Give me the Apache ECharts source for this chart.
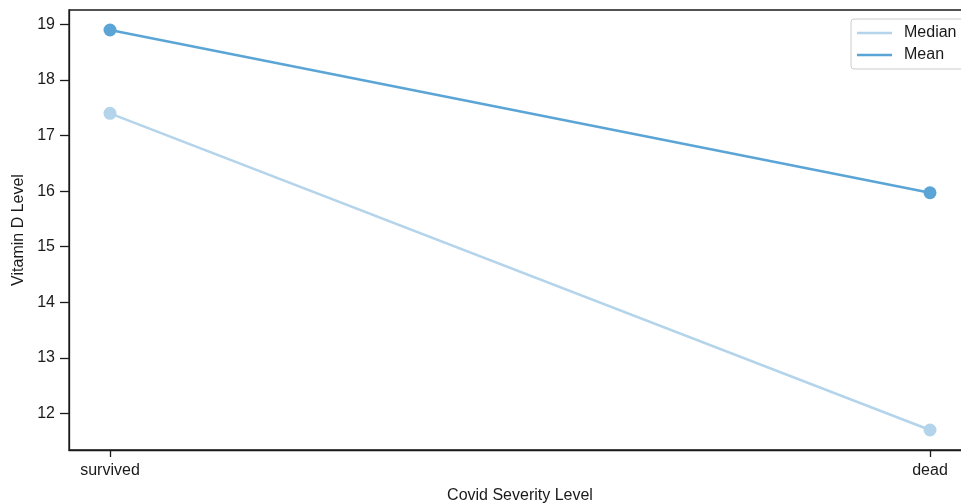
<!DOCTYPE html>
<html>
<head>
<meta charset="utf-8">
<script src="https://cdn.jsdelivr.net/npm/echarts@6/dist/echarts.min.js"></script>
<style>
html,body{margin:0;padding:0;background:#fff;}
#c{width:961px;height:504px;}
</style>
</head>
<body>
<div id="c"></div>
<script>
const categories = ['survived', 'dead'];
const medianValues = [17.4, 11.7];
const meanValues = [18.9, 15.97];
const yTicks = [12, 13, 14, 15, 16, 17, 18, 19];

const FONT = 'Liberation Sans, Arial, sans-serif';
const TXT = '#1a1a1a';
const medianColor = '#b4d4eb';
const meanColor = '#5aa5d6';

const chart = echarts.init(document.getElementById('c'));
const toPts = vals => vals.map((v, i) => [i, v]);

chart.setOption({
  animation: false,
  textStyle: { fontFamily: FONT },
  grid: { left: 69, right: 0, top: 10, bottom: 54, containLabel: false, outerBoundsMode: 'none' },
  xAxis: {
    type: 'value',
    min: -0.05, max: 1.0378,
    name: 'Covid Severity Level',
    nameLocation: 'middle',
    nameGap: 38,
    nameTextStyle: { fontSize: 16, color: TXT, fontFamily: FONT, padding: [0, 0, 0, 10] },
    axisLine: { show: true, onZero: false, lineStyle: { color: TXT, width: 1.3 } },
    axisTick: { show: true, length: 7, lineStyle: { color: TXT, width: 1.3 }, customValues: [0, 1] },
    axisLabel: { fontSize: 16, color: TXT, margin: 13, customValues: [0, 1],
      formatter: v => categories[Math.round(v)] },
    splitLine: { show: false }
  },
  yAxis: {
    type: 'value',
    min: 11.34, max: 19.26,
    name: 'Vitamin D Level',
    nameLocation: 'middle',
    nameGap: 37,
    nameTextStyle: { fontSize: 16, color: TXT, fontFamily: FONT },
    axisLine: { show: true, onZero: false, lineStyle: { color: TXT, width: 1.3 } },
    axisTick: { show: true, length: 9, lineStyle: { color: TXT, width: 1.3 }, customValues: yTicks },
    axisLabel: { fontSize: 16, color: TXT, margin: 14, customValues: yTicks },
    splitLine: { show: false }
  },
  legend: {
    orient: 'vertical',
    left: 851, top: 19,
    padding: [6, 12, 6, 6],
    itemGap: 6,
    itemWidth: 35, itemHeight: 2.5,
    backgroundColor: '#fff',
    borderColor: '#cccccc', borderWidth: 1, borderRadius: 3,
    textStyle: { fontSize: 16, color: TXT, fontFamily: FONT, padding: [0, 0, 0, 7] },
    data: [
      { name: 'Median', icon: 'rect', itemStyle: { color: medianColor } },
      { name: 'Mean', icon: 'rect', itemStyle: { color: meanColor } }
    ]
  },
  graphic: [{
    type: 'rect', shape: { x: 69, y: 10, width: 902, height: 440 },
    style: { fill: 'none', stroke: TXT, lineWidth: 1.3 }, silent: true, z: 0
  }],
  series: [
    { name: 'Median', type: 'line', data: toPts(medianValues), symbol: 'circle', symbolSize: 13,
      lineStyle: { color: medianColor, width: 2.5 }, itemStyle: { color: medianColor } },
    { name: 'Mean', type: 'line', data: toPts(meanValues), symbol: 'circle', symbolSize: 13,
      lineStyle: { color: meanColor, width: 2.5 }, itemStyle: { color: meanColor } }
  ]
});
</script>
</body>
</html>
